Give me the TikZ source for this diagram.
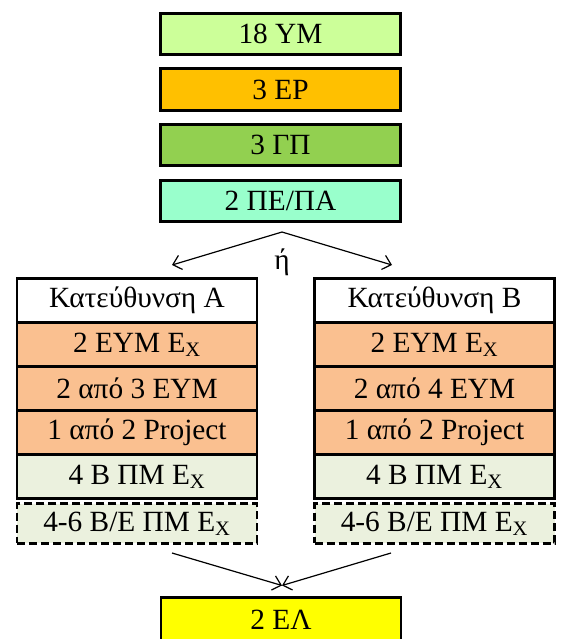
\documentclass[tikz,border=0pt]{standalone}
\usepackage{fontspec}
\setmainfont{Liberation Serif}
\usetikzlibrary{shapes,arrows.meta,positioning,calc}

\definecolor{ymgreen}{HTML}{CCFF99}
\definecolor{erorange}{HTML}{FFC000}
\definecolor{gpgreen}{HTML}{92D050}
\definecolor{peaqua}{HTML}{99FFCC}
\definecolor{eympeach}{HTML}{FAC090}
\definecolor{pmgray}{HTML}{EBF1DE}
\definecolor{elyellow}{HTML}{FFFF00}

\begin{document}
\begin{tikzpicture}[
    x=0.75pt, y=-0.75pt,
    node distance=10.7pt,
    box/.style={rectangle, draw, line width=2.2pt, outer sep=0pt, minimum width=180pt, minimum height=31pt, inner sep=0pt, font=\fontsize{22}{26}\selectfont},
    rowbox/.style={box, minimum height=33pt},
    optbox/.style={box, minimum height=29.5pt, dash pattern=on 6pt off 3pt},
    arrow/.style={-{Straight Barb[length=6pt,width=11pt]}, line width=0.9pt}
]
\useasboundingbox (0,0) rectangle (564,639);

% Common part
\node[box, fill=ymgreen] (ym) at (280.5,34) {18 ΥΜ};
\node[box, fill=erorange] (er) [below=of ym] {3 ΕΡ};
\node[box, fill=gpgreen] (gp) [below=of er] {3 ΓΠ};
\node[box, fill=peaqua] (pe) [below=of gp] {2 ΠΕ/ΠΑ};

% Choice
\coordinate (split) at (282,232);
\node[font=\fontsize{22}{26}\selectfont] (or) at (282,262) {ή};

% Direction A
\node[rowbox, fill=white] (dirA) at (137,300.5) {Κατεύθυνση Α};
\node[rowbox, fill=eympeach] (a1) [below=0pt of dirA] {2 ΕΥΜ Ε\textsubscript{X}};
\node[rowbox, fill=eympeach] (a2) [below=0pt of a1] {2 από 3 ΕΥΜ};
\node[rowbox, fill=eympeach] (a3) [below=0pt of a2] {1 από 2 Project};
\node[rowbox, fill=pmgray] (a4) [below=0pt of a3] {4 Β ΠΜ Ε\textsubscript{X}};
\node[optbox, fill=pmgray] (a5) [below=4pt of a4] {4-6 Β/Ε ΠΜ Ε\textsubscript{X}};

% Direction B
\node[rowbox, fill=white] (dirB) at (434.5,300.5) {Κατεύθυνση Β};
\node[rowbox, fill=eympeach] (b1) [below=0pt of dirB] {2 ΕΥΜ Ε\textsubscript{X}};
\node[rowbox, fill=eympeach] (b2) [below=0pt of b1] {2 από 4 ΕΥΜ};
\node[rowbox, fill=eympeach] (b3) [below=0pt of b2] {1 από 2 Project};
\node[rowbox, fill=pmgray] (b4) [below=0pt of b3] {4 Β ΠΜ Ε\textsubscript{X}};
\node[optbox, fill=pmgray] (b5) [below=4pt of b4] {4-6 Β/Ε ΠΜ Ε\textsubscript{X}};

% Thesis
\node[rowbox, fill=elyellow] (el) at (281,619.5) {2 ΕΛ};

% Arrows
\coordinate (toA) at (172,265);
\coordinate (toB) at (392,265);
\coordinate (fromA) at (172,553);
\coordinate (fromB) at (391,553);
\coordinate (merge) at ($(el.north)+(1,-12)$);
\draw[arrow] (split) -- (toA);
\draw[arrow] (split) -- (toB);
\draw[arrow] (fromA) -- (merge);
\draw[arrow] (fromB) -- (merge);

\end{tikzpicture}
\end{document}
